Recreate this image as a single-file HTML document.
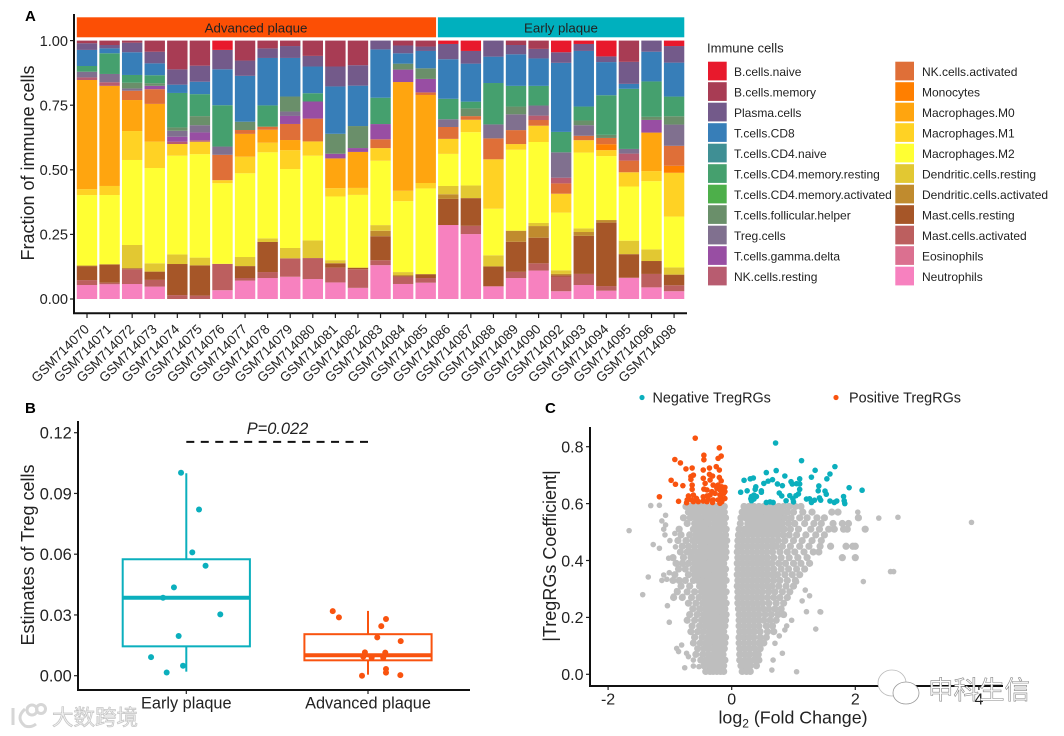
<!DOCTYPE html>
<html>
<head>
<meta charset="utf-8">
<title>Immune cell composition figure</title>
<style>
html,body{margin:0;padding:0;background:#fff;width:1064px;height:736px;overflow:hidden}
svg{display:block;filter:blur(0.35px)}
text{font-family:"Liberation Sans",Arial,"Noto Sans CJK SC",sans-serif;fill:#222}
</style>
</head>
<body>
<svg id="figure" xmlns="http://www.w3.org/2000/svg" width="1064" height="736" viewBox="0 0 1064 736">
  <text x="25" y="21" font-size="15" font-weight="bold" style="fill:#000">A</text>
  <text x="25" y="413" font-size="15" font-weight="bold" style="fill:#000">B</text>
  <text x="545" y="413" font-size="15" font-weight="bold" style="fill:#000">C</text>
  <g id="panelA"></g>
  <g id="legendA">
    <text x="707" y="52.7" font-size="13">Immune cells</text>
  </g>
  <g id="panelB"></g>
  <g id="panelC"></g>
  <g fill="none" stroke="#d6d6d6" stroke-width="3">
    <path d="M13 708 L13 725 M25 709 Q15 718 25 726 Q31 728 36 724"/>
    <circle cx="32" cy="710" r="5"/>
    <circle cx="41" cy="709" r="4.5"/>
    <text x="52" y="725" font-size="21.5" stroke-width="0.7" style="fill:#f1f1f1;stroke:#c4c4c4">大数跨境</text>
  </g>
  <g>
    <ellipse cx="892" cy="683" rx="14" ry="13" fill="#fff" stroke="#bbb" stroke-width="0.8"/>
    <ellipse cx="906" cy="693" rx="13" ry="11" fill="#fff" stroke="#999" stroke-width="0.8"/>
    <text x="928" y="699" font-size="25.5" stroke-width="0.6" style="fill:#fff;stroke:#8a8a8a">申科生信</text>
  </g>
</svg>
<script>
// ---------- Panel A data ----------
const samples = ["GSM714070","GSM714071","GSM714072","GSM714073","GSM714074","GSM714075","GSM714076","GSM714077","GSM714078","GSM714079","GSM714080","GSM714081","GSM714082","GSM714083","GSM714084","GSM714085","GSM714086","GSM714087","GSM714088","GSM714089","GSM714090","GSM714092","GSM714093","GSM714094","GSM714095","GSM714096","GSM714098"];
const cellTypes = ["B.cells.naive","B.cells.memory","Plasma.cells","T.cells.CD8","T.cells.CD4.naive","T.cells.CD4.memory.resting","T.cells.CD4.memory.activated","T.cells.follicular.helper","Treg.cells","T.cells.gamma.delta","NK.cells.resting","NK.cells.activated","Monocytes","Macrophages.M0","Macrophages.M1","Macrophages.M2","Dendritic.cells.resting","Dendritic.cells.activated","Mast.cells.resting","Mast.cells.activated","Eosinophils","Neutrophils"];
const bCellsNaive = [0,0,0,0,0,0,3.6,0,0,0,0,0,0,0,0,0,1.3,4,0,0,0,4.5,1.3,6.1,0,0,2.1];
const bCellsMemory = [1,1.7,.8,4.3,11.1,9.7,0,7.7,3,2.1,5.9,10,9.5,0,1.9,2.3,0,0,0,1.7,3.2,0,0,0,8.2,0,0];
const plasmaCells = [2.6,1.3,3.7,4.5,5.9,6.2,7.5,5.9,3.7,4.6,4.1,7.7,7.9,3.4,3,1.7,5.9,4.9,6.2,3.6,3.7,4.1,2.7,2.2,8.5,4.3,6.4];
const tCellsCD8 = [6.2,1.9,8.8,4.6,3.2,4.8,13.9,17.7,18.3,14.9,10.3,18.3,15.6,18.7,4,6.7,15.3,14.7,10.2,12.2,10.6,26.7,21.5,12.8,1.9,11.5,13.1];
const tCellsCD4Naive = [0,0,0,0,0,0,0,0,0,0,0,0,0,0,0,0,0,0,0,0,0,0,0,0,0,0,0];
const tCellsCD4Resting = [2.2,8,3,3.1,13.3,8.5,16,0,8.2,0,3.2,0,0,10.2,0,0,7.9,2.6,16,8,7.6,7.9,5.4,15.3,23.2,13.7,7.6];
const tCellsCD4Activated = [0,0,0,0,0,0,0,0,0,0,0,0,0,0,0,0,0,0,0,0,0,0,0,0,0,0,0];
const tCellsFollicular = [0,0,2.2,1,1.3,3.5,0,3.2,0,5.8,0,7.7,8.5,0,2.3,4.1,0,3,0,3,0,0,1.8,1.2,0,1.2,3.2];
const tregCells = [2.2,3.2,.9,0,2.3,2.8,3.2,0,0,1.7,0,0,0,0,0,0,3,0,5.4,6.1,3.9,9.8,4.1,0,1.8,0,8.2];
const tCellsGammaDelta = [0,0,0,1.3,1.9,3,0,0,0,3.1,6.6,1.8,1.5,5.9,4.8,5.2,0,0,0,0,0,0,0,0,0,4.9,0];
const nkResting = [1,1.4,0,0,.9,.6,0,0,0,0,0,0,0,0,0,0,0,0,0,0,1.7,2.2,0,0,2.7,0,0];
const nkActivated = [0,0,3.6,5.7,0,0,9.8,1.5,1.2,6.2,8.8,0,0,3.4,0,1,4.6,1.4,8.1,5.4,2.2,4,1.7,2.4,4.5,0,7.7];
const monocytes = [0,0,0,0,0,0,0,0,0,0,0,0,0,0,0,0,0,0,0,0,0,0,0,2.3,0,0,2.7];
const macrophagesM0 = [42.1,38.7,12,14.6,0,0,0,8.8,5,3.9,0,11.5,13.9,0,42,34,0,0,0,0,0,0,0,0,0,14.9,0];
const macrophagesM1 = [2.3,3.5,11.2,10.2,4.5,4.8,1.2,6.4,3.7,7.3,5.5,3.2,2.7,4.9,4,2.1,5.8,4.8,19.1,2.2,6.3,7.3,4.8,2.3,5.5,3.9,16.9];
const macrophagesM2 = [27,26.8,32.9,36.9,38.1,40,31.2,32.3,33.2,30.5,32.7,24.6,28.1,24.9,27.4,33.1,12.4,20.6,18,31.3,31.3,22.3,29.3,24.7,20.9,26.4,19.6];
const dendriticResting = [.4,0,9,3.2,3.7,3,0,3.5,1.4,4,6.8,1.2,0,2.2,1.3,0,3.2,4.9,4.3,0,1.2,1.4,1.4,0,5.2,4.5,2.8];
const dendriticActivated = [0,0,0,0,0,0,0,0,0,0,0,0,0,2.1,0,0,1.8,0,0,4.3,4.5,.5,1.5,1,0,0,0];
const mastResting = [5.4,7.1,.4,3.2,12,11.7,0,4.6,11.6,0,0,1.7,.6,9.3,.5,1.5,10.1,10.7,7.7,11.6,9.9,.5,14.7,24.5,9.1,5,4.1];
const mastActivated = [1.9,.6,5.7,2.6,1.5,1.3,10.2,1,2.3,7.1,8.1,5.7,7.2,1.9,2.8,1.8,0,3.2,0,2.4,2.8,5.7,4.3,1.8,0,5.2,2.3];
const eosinophils = [0,0,0,0,0,0,0,0,0,0,0,0,0,0,0,0,0,0,0,0,0,0,0,0,0,0,0];
const neutrophils = [5.4,5.7,5.8,4.8,0,0,3.4,7.1,8.1,8.6,7.7,6.4,4.3,13.1,5.8,6.3,28.6,25.1,4.9,8.1,11,3,5.4,3.2,8.2,4.5,3];
const fractionTicks = [0,0.25,0.5,0.75,1];
const advancedCount = 16;

// ---------- Panel B data ----------
const boxCategories = ["Early plaque","Advanced plaque"];
const boxLow = [0.002,0.0005];
const boxQ1 = [0.0145,0.0076];
const boxMedian = [0.0385,0.0101];
const boxQ3 = [0.0575,0.0205];
const boxHigh = [0.1,0.032];
const earlyValues = [.1002,.0821,.0609,.0543,.0436,.0385,.0303,.0196,.0092,.0049,.0016];
const earlyJitter = [-.029,.07,.033,.106,-.068,-.128,.187,-.042,-.194,-.018,-.108];
const advancedValues = [.0319,.0288,.028,.0245,.0189,.0171,.0115,.0114,.0094,.0089,.0089,.0033,.0015,0,.0003];
const advancedJitter = [-.194,-.16,.099,.073,.051,.18,-.017,.095,-.026,.02,.084,.099,.099,-.033,.178];
const treggTicks = [0,0.03,0.06,0.09,0.12];
const pValueLevel = 0.1155;

// ---------- Panel C data ----------
const volcanoXTicks = [-2,0,2,4];
const volcanoYTicks = [0,0.2,0.4,0.6,0.8];
const positiveX = [-.59,-.2,-.92,-.83,-.45,-.45,-.17,-.22,-.74,-.64,-.46,-.36,-.25,-.2,-.98,-.91,-.79,-.66,-.62,-.66,-.64,-.46,-.36,-.31,-.43,-.35,-.2,-.17,-.3,-.22,-.16,-.11,-.24,-.19,-.13,-.64,-.45,-.11,-1.17,-.86,-.7,-.62,-.72,-.65,-.57,-.46,-.4,-.35,-.27,-.19,-.16,-.46,-.38,-.3,-.22,-.16,-.73,-.62,-.54,-.4,-.31,-.19,-.11,-.13,-.4,-.32];
const positiveY = [.83,.796,.755,.743,.77,.754,.767,.759,.722,.725,.718,.725,.73,.718,.682,.668,.663,.695,.7,.685,.665,.689,.703,.697,.671,.683,.692,.68,.665,.665,.659,.657,.654,.648,.648,.65,.651,.642,.624,.608,.627,.63,.613,.613,.618,.624,.627,.63,.636,.63,.618,.609,.615,.613,.613,.607,.603,.607,.607,.607,.604,.601,.618,.636,.648,.642];
const negativeX = [.71,1.13,1.67,.72,.56,1.35,1.59,.86,1.29,.35,.3,.2,.66,.59,.52,1.1,1.54,.96,.98,.74,.82,1.05,1.1,1.41,1.9,2.11,.145,.39,.38,.25,.48,.48,1.4,1.51,1.53,1.1,.77,.81,1.08,1.04,.94,.36,.32,.4,.31,.36,.32,.88,.99,1,1.21,1.26,1.34,1.42,1.44,1.29,1.81,1.82,1.83,1.59,1.66,1.7,.56,.62,.67];
const negativeY = [.813,.751,.73,.716,.709,.717,.704,.697,.693,.69,.687,.682,.684,.679,.671,.687,.687,.677,.669,.669,.663,.67,.669,.662,.656,.647,.64,.659,.65,.645,.645,.64,.645,.644,.633,.65,.637,.627,.634,.628,.628,.63,.625,.625,.617,.616,.61,.61,.617,.606,.616,.617,.612,.62,.612,.604,.625,.61,.6,.609,.604,.609,.604,.606,.604];
const grayRowY = [.59,.57,.55,.53,.51,.49,.47,.45,.43,.41,.39,.37,.35,.33,.31,.29,.27,.25,.23,.21,.19,.17,.15,.13,.11,.09,.07,.05,.03,.01];
const grayRowLeftX = [
[-.74,-.66,-.57,-.49,-.41,-.33,-.24,-.16,-.12],
[-.7,-.62,-.54,-.45,-.37,-.29,-.2,-.12],
[-.78,-.67,-.58,-.5,-.41,-.33,-.24,-.16,-.1],
[-.72,-.6,-.53,-.45,-.37,-.28,-.2,-.12],
[-.85,-.62,-.54,-.49,-.41,-.33,-.24,-.16,-.09],
[-.82,-.68,-.58,-.5,-.43,-.35,-.27,-.19,-.1],
[-.87,-.74,-.63,-.54,-.46,-.38,-.3,-.22,-.14,-.08],
[-.8,-.7,-.6,-.5,-.42,-.34,-.26,-.18,-.1],
[-.83,-.72,-.64,-.55,-.46,-.38,-.3,-.22,-.14,-.09],
[-.95,-.78,-.66,-.58,-.5,-.42,-.34,-.26,-.18,-.1],
[-.9,-.8,-.7,-.6,-.53,-.45,-.37,-.29,-.21,-.13],
[-.86,-.75,-.63,-.56,-.48,-.4,-.32,-.24,-.16,-.1],
[-.92,-.7,-.6,-.52,-.44,-.36,-.28,-.2,-.12],
[-.95,-.85,-.75,-.62,-.55,-.47,-.39,-.31,-.23,-.15,-.09],
[-.82,-.68,-.52,-.45,-.37,-.29,-.21,-.13],
[-.88,-.72,-.6,-.49,-.41,-.33,-.25,-.17,-.09],
[-.94,-.8,-.65,-.53,-.44,-.36,-.28,-.2,-.12],
[-.7,-.58,-.47,-.39,-.31,-.23,-.15,-.09],
[-.63,-.52,-.43,-.35,-.27,-.19,-.11],
[-.68,-.56,-.46,-.38,-.3,-.22,-.14,-.09],
[-.72,-.6,-.49,-.41,-.33,-.25,-.17,-.1],
[-.64,-.52,-.43,-.35,-.27,-.19,-.11],
[-.66,-.55,-.46,-.37,-.29,-.21,-.13],
[-.6,-.48,-.39,-.31,-.23,-.15,-.1],
[-.62,-.51,-.42,-.34,-.26,-.18,-.11],
[-.55,-.45,-.37,-.28,-.2,-.12],
[-.58,-.47,-.38,-.3,-.22,-.14],
[-.5,-.41,-.33,-.25,-.17,-.11],
[-.45,-.36,-.28,-.2,-.13],
[-.42,-.35,-.3,-.24,-.18,-.13]];
const grayRowRightX = [
[.2,.28,.36,.44,.52,.6,.68,.76,.84,.93,1.03,1.12],
[.17,.25,.33,.41,.49,.57,.65,.73,.81,.9,1,1.15,1.3,1.62,1.72],
[.15,.22,.3,.38,.46,.54,.62,.7,.78,.86,.96,1.1,1.22,1.38,1.5,2.05],
[.14,.26,.34,.42,.5,.58,.66,.74,.82,.92,1.02,1.18,1.33,1.45,1.64,1.79,1.89],
[.12,.21,.29,.37,.45,.53,.61,.69,.77,.85,.95,1.08,1.28,1.42,1.57,1.66,1.81,1.87,2.16],
[.11,.18,.26,.34,.42,.5,.58,.66,.74,.83,.93,1.05,1.2,1.36,1.5],
[.1,.18,.26,.34,.42,.5,.58,.66,.75,.86,1,1.14,1.3,1.45],
[.1,.17,.25,.33,.41,.49,.57,.65,.72,.82,.95,1.1,1.25,1.43,1.6,1.85,1.96,2],
[.09,.17,.25,.33,.41,.49,.57,.66,.78,.9,1.02,1.17,1.32,1.41],
[.1,.18,.26,.34,.42,.5,.58,.68,.8,.93,1.07,1.22,1.79,2],
[.09,.17,.25,.33,.41,.49,.57,.65,.76,.87,1,1.12,1.26],
[.1,.18,.26,.34,.42,.5,.58,.68,.8,.92,1.05,1.18],
[.09,.17,.25,.33,.41,.49,.57,.65,.74,.86,.98,1.1],
[.1,.18,.26,.34,.42,.5,.58,.68,.78,.9,1.03],
[.09,.17,.25,.33,.41,.49,.57,.65,.76,.88,1],
[.1,.18,.26,.34,.42,.5,.6,.7,.82,.94],
[.1,.17,.25,.33,.41,.49,.58,.68,.78,.9],
[.1,.18,.26,.34,.42,.5,.6,.72,.84],
[.11,.19,.27,.35,.43,.51,.6,.7,.8],
[.12,.2,.28,.36,.44,.54,.64,.75,.84],
[.12,.2,.28,.36,.44,.52,.62,.72],
[.12,.2,.28,.36,.44,.56,.66],
[.13,.21,.29,.37,.46,.58,.68],
[.12,.2,.28,.36,.46,.56],
[.12,.2,.28,.36,.44,.52],
[.13,.21,.29,.37,.46],
[.13,.21,.29,.38,.43],
[.13,.21,.28,.36,.44],
[.15,.22,.3,.4],
[.17,.24,.3]];
const grayStrayX = [-1.66,-1.31,-1.17,-1.07,-1.13,-1.07,-1.1,-1.08,-1.27,-1.17,-1,-.92,-.91,-1.02,-1.35,-1.13,-1.05,-1.01,-1.1,-1.44,-.82,-.89,-.94,-.79,-1.04,-1.01,-.89,-.81,-.86,-.73,-.76,-.62,-.7,-.62,-.53,1.05,.65,.67,.82,.7,.77,.97,.89,.86,1.36,1.43,1.21,1.26,1.19,1.14,1.05,2.38,2.69,3.88,2.04,2.57,2.62,2.13,1.44];
const grayStrayY = [.505,.593,.594,.559,.539,.525,.51,.49,.456,.443,.47,.495,.448,.408,.342,.33,.334,.357,.349,.28,.314,.294,.275,.274,.241,.183,.091,.103,.08,.074,.023,.029,.062,.05,.027,.009,.015,.05,.074,.109,.135,.19,.17,.156,.159,.22,.22,.276,.296,.258,.325,.549,.552,.534,.57,.361,.361,.326,.219];

// ---------- Styling ----------
const cellColors = ["#E8192C","#A83C54","#735A8A","#377EB8","#3F8F94","#45A06E","#4DAF4A","#6A8F6A","#80708F","#984EA3","#B85C70","#DF6F38","#FF7F00","#FFA50F","#FFD224","#FFFF33","#E2C832","#C08B2E","#A65628","#BC5F5F","#DB7090","#F781BF"];
const ORANGE = "#F9530F";
const TEAL = "#0BAFBD";
const GRAY = "#BEBEBE";
const NS = "http://www.w3.org/2000/svg";

function make(parent, tag, attrs, content){
  const node = document.createElementNS(NS, tag);
  for (const key in attrs) node.setAttribute(key, attrs[key]);
  if (content !== undefined) node.textContent = content;
  parent.appendChild(node);
  return node;
}

// ---------- Panel A ----------
const panelA = document.getElementById("panelA");
const legendA = document.getElementById("legendA");
const stackSeries = [bCellsNaive,bCellsMemory,plasmaCells,tCellsCD8,tCellsCD4Naive,tCellsCD4Resting,tCellsCD4Activated,tCellsFollicular,tregCells,tCellsGammaDelta,nkResting,nkActivated,monocytes,macrophagesM0,macrophagesM1,macrophagesM2,dendriticResting,dendriticActivated,mastResting,mastActivated,eosinophils,neutrophils];
const xA = i => 87 + 22.58 * i;
const yA = v => 299 - 258.4 * v;

samples.forEach((name, i) => {
  let total = 0;
  stackSeries.forEach(series => { total += series[i]; });
  let running = 0;
  for (let s = stackSeries.length - 1; s >= 0; s--) {
    const value = stackSeries[s][i];
    if (value <= 0) continue;
    const base = running / total;
    running += value;
    const top = running / total;
    const bar = make(panelA, "rect", {x: xA(i) - 10.2, y: yA(top), width: 20.4, height: yA(base) - yA(top), fill: cellColors[s]});
    
    
  }
  const tick = make(panelA, "line", {x1: xA(i), x2: xA(i), y1: 313, y2: 318, stroke: "#222", "stroke-width": 1.2});
  
  
  const label = make(panelA, "text", {"text-anchor": "end", "font-size": 13.4, transform: `translate(${xA(i) + 3} 330) rotate(-45)`}, name);
  
  
});

const stripAdvanced = make(panelA, "rect", {x: xA(0) - 10.2, y: 17.3, width: xA(advancedCount - 1) + 10.4 - (xA(0) - 10.2), height: 20, fill: "#FC4F05"});


const stripEarly = make(panelA, "rect", {x: xA(advancedCount) - 10.4, y: 17.3, width: xA(samples.length - 1) + 10.2 - (xA(advancedCount) - 10.4), height: 20, fill: "#00B0BE"});


const stripTextA = make(panelA, "text", {x: 256, y: 32.3, "text-anchor": "middle", "font-size": 13.3}, "Advanced plaque");


const stripTextE = make(panelA, "text", {x: 561, y: 32.3, "text-anchor": "middle", "font-size": 13.3}, "Early plaque");



fractionTicks.forEach(t => {
  const tick = make(panelA, "line", {x1: 70, x2: 74, y1: yA(t), y2: yA(t), stroke: "#222", "stroke-width": 1.2});
  
  
  const label = make(panelA, "text", {x: 68, y: yA(t) + 5.2, "text-anchor": "end", "font-size": 14.6}, t.toFixed(2));
  
  
});
const axisAY = make(panelA, "line", {x1: 74, x2: 74, y1: 14, y2: 314, stroke: "#111", "stroke-width": 2});


const axisAX = make(panelA, "line", {x1: 73, x2: 687, y1: 313.3, y2: 313.3, stroke: "#111", "stroke-width": 2});


const titleA = make(panelA, "text", {"text-anchor": "middle", "font-size": 18, transform: "translate(34 163) rotate(-90)"}, "Fraction of immune cells");



cellTypes.forEach((name, i) => {
  const col = i < 11 ? 0 : 1;
  const row = i < 11 ? i : i - 11;
  const swatch = make(legendA, "rect", {x: col ? 895.3 : 708, y: 61.7 + 20.5 * row, width: 18.7, height: 18.7, fill: cellColors[i]});
  
  
  const label = make(legendA, "text", {x: col ? 922 : 734, y: 76 + 20.5 * row, "font-size": 12}, name);
  
  
});

// ---------- Panel B ----------
const panelB = document.getElementById("panelB");
const xB = c => 186.3 + 181.7 * c;
const yB = v => 675.7 - 2025 * v;
treggTicks.forEach(t => {
  const tick = make(panelB, "line", {x1: 74, x2: 78, y1: yB(t), y2: yB(t), stroke: "#222", "stroke-width": 1.2});
  
  
  const label = make(panelB, "text", {x: 71.7, y: yB(t) + 5.8, "text-anchor": "end", "font-size": 16.4}, t.toFixed(2));
  
  
});
const boxColors = [TEAL, ORANGE];
boxCategories.forEach((name, c) => {
  const color = boxColors[c];
  const halfWidth = 63.6;
  const upper = make(panelB, "line", {x1: xB(c), x2: xB(c), y1: yB(boxHigh[c]), y2: yB(boxQ3[c]), stroke: color, "stroke-width": 2});
  
  
  const lower = make(panelB, "line", {x1: xB(c), x2: xB(c), y1: yB(boxQ1[c]), y2: yB(boxLow[c]), stroke: color, "stroke-width": 2});
  
  
  const box = make(panelB, "rect", {x: xB(c) - halfWidth, y: yB(boxQ3[c]), width: 2 * halfWidth, height: yB(boxQ1[c]) - yB(boxQ3[c]), fill: "none", stroke: color, "stroke-width": 2});
  
  
  const med = make(panelB, "line", {x1: xB(c) - halfWidth, x2: xB(c) + halfWidth, y1: yB(boxMedian[c]), y2: yB(boxMedian[c]), stroke: color, "stroke-width": 4});
  
  
  const tick = make(panelB, "line", {x1: xB(c), x2: xB(c), y1: 690, y2: 694, stroke: "#222", "stroke-width": 1.2});
  
  
  const label = make(panelB, "text", {x: xB(c), y: 708.5, "text-anchor": "middle", "font-size": 16.3}, name);
  
  
});
earlyValues.forEach((v, i) => {
  const dot = make(panelB, "circle", {cx: xB(0 + earlyJitter[i]), cy: yB(v), r: 3, fill: TEAL});
  
  
});
advancedValues.forEach((v, i) => {
  const dot = make(panelB, "circle", {cx: xB(1 + advancedJitter[i]), cy: yB(v), r: 3, fill: ORANGE});
  
  
});
const pLine = make(panelB, "line", {x1: xB(0), x2: xB(1), y1: yB(pValueLevel), y2: yB(pValueLevel), stroke: "#111", "stroke-width": 2, "stroke-dasharray": "8 6.475"});


const pText = make(panelB, "text", {x: 277.5, y: 434, "text-anchor": "middle", "font-size": 16.4, "font-style": "italic"}, "P=0.022");


const axisBY = make(panelB, "line", {x1: 78, x2: 78, y1: 421, y2: 691, stroke: "#111", "stroke-width": 2});


const axisBX = make(panelB, "line", {x1: 77, x2: 470, y1: 690, y2: 690, stroke: "#111", "stroke-width": 2});


const titleB = make(panelB, "text", {"text-anchor": "middle", "font-size": 18, transform: "translate(34 555) rotate(-90)"}, "Estimates of Treg cells");



// ---------- Panel C ----------
const panelC = document.getElementById("panelC");
const xC = v => 731.7 + 61.8 * v;
const yC = v => 674.3 - 284.5 * v;
grayRowY.forEach((y, r) => {
  grayRowLeftX[r].concat(grayRowRightX[r]).forEach(x => {
    const dot = make(panelC, "circle", {cx: xC(x), cy: yC(y), r: 3.6, fill: GRAY});
    
    
  });
});
grayStrayX.forEach((x, i) => {
  const dot = make(panelC, "circle", {cx: xC(x), cy: yC(grayStrayY[i]), r: 2.8, fill: GRAY});
  
  
});
positiveX.forEach((x, i) => {
  const dot = make(panelC, "circle", {cx: xC(x), cy: yC(positiveY[i]), r: 2.8, fill: ORANGE});
  
  
});
negativeX.forEach((x, i) => {
  const dot = make(panelC, "circle", {cx: xC(x), cy: yC(negativeY[i]), r: 2.8, fill: TEAL});
  
  
});
volcanoYTicks.forEach(t => {
  const tick = make(panelC, "line", {x1: 586, x2: 590, y1: yC(t), y2: yC(t), stroke: "#222", "stroke-width": 1.2});
  
  
  const label = make(panelC, "text", {x: 583.5, y: yC(t) + 5.8, "text-anchor": "end", "font-size": 16}, t.toFixed(1));
  
  
});
volcanoXTicks.forEach(t => {
  const tick = make(panelC, "line", {x1: xC(t), x2: xC(t), y1: 686, y2: 690, stroke: "#222", "stroke-width": 1.2});
  
  
  const label = make(panelC, "text", {x: xC(t), y: 704.5, "text-anchor": "middle", "font-size": 16}, String(t));
  
  
});
const axisCY = make(panelC, "line", {x1: 590, x2: 590, y1: 427, y2: 687, stroke: "#111", "stroke-width": 2});


const axisCX = make(panelC, "line", {x1: 589, x2: 1003, y1: 686, y2: 686, stroke: "#111", "stroke-width": 2});


const titleC = make(panelC, "text", {"text-anchor": "middle", "font-size": 18, transform: "translate(556 556) rotate(-90)"}, "|TregRGs Coefficient|");


const xTitleC = make(panelC, "text", {x: 793, y: 723.5, "text-anchor": "middle", "font-size": 17.8});


make(xTitleC, "tspan", {}, "log");
make(xTitleC, "tspan", {dy: 4, "font-size": 12}, "2");
make(xTitleC, "tspan", {dy: -4}, " (Fold Change)");

const legNegDot = make(panelC, "circle", {cx: 642, cy: 397.5, r: 2.6, fill: TEAL});


const legNegText = make(panelC, "text", {x: 652.5, y: 402.5, "font-size": 14.4}, "Negative TregRGs");


const legPosDot = make(panelC, "circle", {cx: 836, cy: 397.5, r: 2.6, fill: ORANGE});


const legPosText = make(panelC, "text", {x: 849, y: 402.5, "font-size": 14.4}, "Positive TregRGs");


</script>
</body>
</html>
